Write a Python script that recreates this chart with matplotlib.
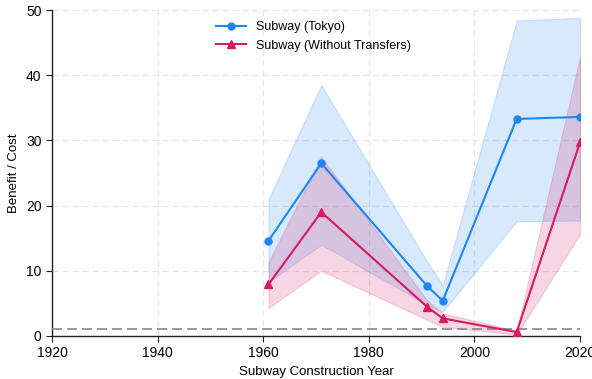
import matplotlib
matplotlib.use("Agg")
import matplotlib.pyplot as plt

plt.rcParams['font.family'] = ['Liberation Sans', 'DejaVu Sans']

years = [1961, 1971, 1991, 1994, 2008, 2020]
tokyo = [14.6, 26.5, 7.7, 5.4, 33.3, 33.6]
tokyo_lo = [8.3, 14.0, 4.8, 3.7, 17.6, 17.7]
tokyo_hi = [21.0, 38.5, 11.5, 7.8, 48.4, 48.8]
notrans = [7.9, 19.0, 4.5, 2.7, 0.6, 29.7]
notrans_lo = [4.3, 10.0, 2.5, 1.4, 0.2, 15.6]
notrans_hi = [11.3, 27.5, 5.5, 3.5, 0.8, 42.8]

xticks = [1920, 1940, 1960, 1980, 2000, 2020]
yticks = [0, 10, 20, 30, 40, 50]

blue = '#1F86F5'
pink = '#D81B60'

fig = plt.figure(figsize=(5.92, 3.79), dpi=100)
ax = fig.add_axes([0.0878, 0.1135, 0.892, 0.860])

ax.fill_between(years, tokyo_lo, tokyo_hi, facecolor=blue, alpha=0.18,
                edgecolor=blue, linewidth=0.8, zorder=2)
ax.fill_between(years, notrans_lo, notrans_hi, facecolor=pink, alpha=0.18,
                edgecolor=pink, linewidth=0.8, zorder=2)
ax.plot(years, tokyo, color=blue, marker='o', markersize=5, linewidth=1.5,
        label='Subway (Tokyo)', zorder=4)
ax.plot(years, notrans, color=pink, marker='^', markersize=6, linewidth=1.5,
        label='Subway (Without Transfers)', zorder=4)
ax.axhline(1, color='#888888', linestyle=(0, (6, 3)), linewidth=1.2, zorder=3)

ax.set_xlim(1920, 2020)
ax.set_ylim(0, 50)
ax.set_xticks(xticks)
ax.set_yticks(yticks)
ax.grid(True, color='#e6e6e6', linestyle=(0, (5, 3)), linewidth=0.9, zorder=0)
ax.set_axisbelow(True)
for s in ['top', 'right']:
    ax.spines[s].set_visible(False)
for s in ['left', 'bottom']:
    ax.spines[s].set_color('#222222')
    ax.spines[s].set_linewidth(1.0)
ax.tick_params(labelsize=10, length=4, color='#222222')
ax.set_xlabel('Subway Construction Year', fontsize=9.5)
ax.set_ylabel('Benefit / Cost', fontsize=9.5)

ax.legend(loc='upper center', bbox_to_anchor=(0.495, 1.0), frameon=False,
          fontsize=9, handlelength=2.4)

fig.savefig('out.png', dpi=100)
